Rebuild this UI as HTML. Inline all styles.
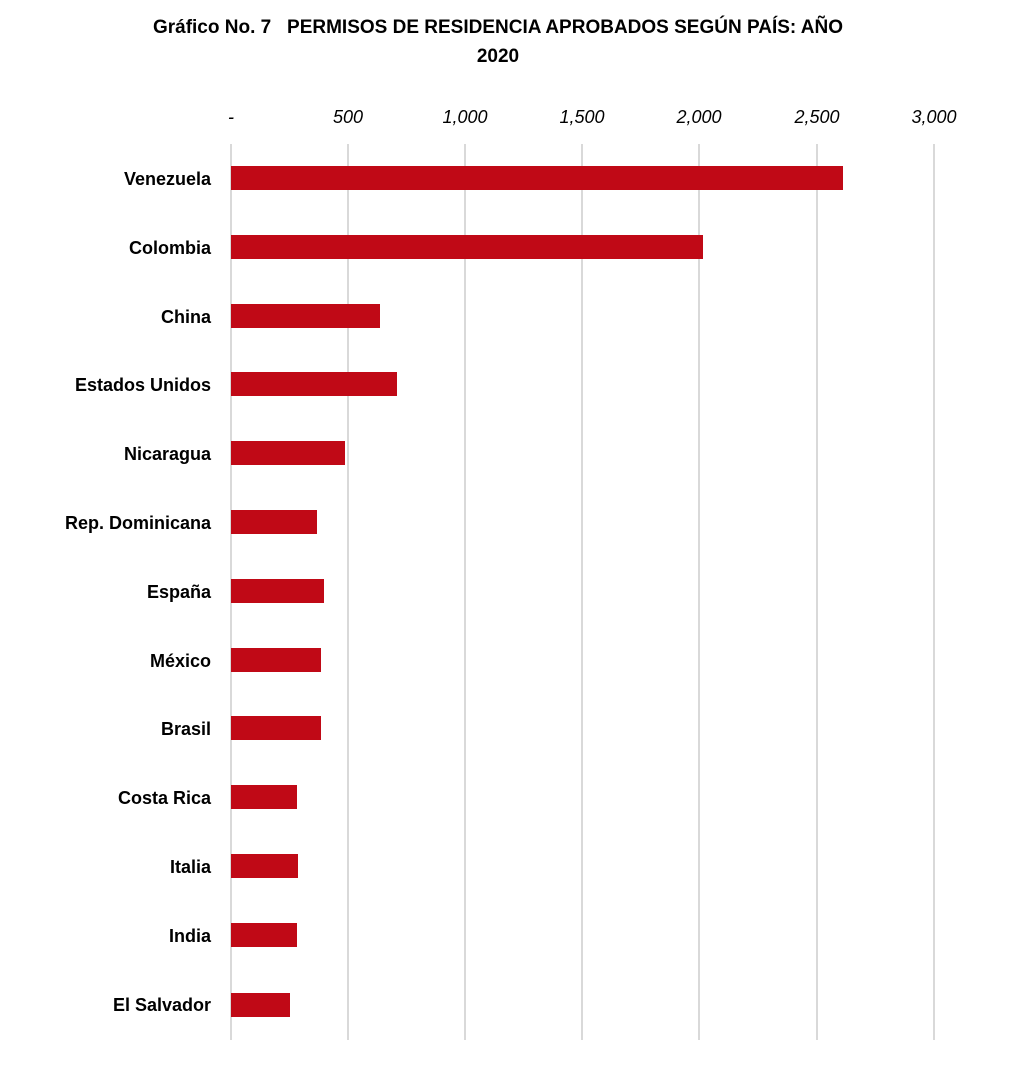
<!DOCTYPE html>
<html><head><meta charset="utf-8"><style>
body{margin:0;background:#fff;}
svg text{font-family:"Liberation Sans",sans-serif;}
</style></head><body>
<svg width="1020" height="1082" xmlns="http://www.w3.org/2000/svg">
<text x="498" y="33" text-anchor="middle" font-size="19" font-weight="bold" fill="#000">Gráfico No. 7&#160;&#160;&#160;PERMISOS DE RESIDENCIA APROBADOS SEGÚN PAÍS: AÑO</text>
<text x="498" y="62" text-anchor="middle" font-size="19" font-weight="bold" fill="#000">2020</text>
<g stroke="#d9d9d9" stroke-width="2">
<line x1="231" y1="144" x2="231" y2="1040"/><line x1="348" y1="144" x2="348" y2="1040"/><line x1="465" y1="144" x2="465" y2="1040"/><line x1="582" y1="144" x2="582" y2="1040"/><line x1="699" y1="144" x2="699" y2="1040"/><line x1="817" y1="144" x2="817" y2="1040"/><line x1="934" y1="144" x2="934" y2="1040"/>
</g>
<g font-size="18" font-style="italic" fill="#000" text-anchor="middle">
<text x="231" y="123">-</text><text x="348" y="123">500</text><text x="465" y="123">1,000</text><text x="582" y="123">1,500</text><text x="699" y="123">2,000</text><text x="817" y="123">2,500</text><text x="934" y="123">3,000</text>
</g>
<g fill="#c00916">
<rect x="231" y="166" width="612" height="24"/>
<rect x="231" y="235" width="472" height="24"/>
<rect x="231" y="304" width="149" height="24"/>
<rect x="231" y="372" width="166" height="24"/>
<rect x="231" y="441" width="114" height="24"/>
<rect x="231" y="510" width="86" height="24"/>
<rect x="231" y="579" width="93" height="24"/>
<rect x="231" y="648" width="90" height="24"/>
<rect x="231" y="716" width="90" height="24"/>
<rect x="231" y="785" width="66" height="24"/>
<rect x="231" y="854" width="67" height="24"/>
<rect x="231" y="923" width="66" height="24"/>
<rect x="231" y="993" width="59" height="24"/>
</g>
<g font-size="18" font-weight="bold" fill="#000" text-anchor="end">
<text x="211" y="185">Venezuela</text>
<text x="211" y="254">Colombia</text>
<text x="211" y="323">China</text>
<text x="211" y="391">Estados Unidos</text>
<text x="211" y="460">Nicaragua</text>
<text x="211" y="529">Rep. Dominicana</text>
<text x="211" y="598">España</text>
<text x="211" y="667">México</text>
<text x="211" y="735">Brasil</text>
<text x="211" y="804">Costa Rica</text>
<text x="211" y="873">Italia</text>
<text x="211" y="942">India</text>
<text x="211" y="1011">El Salvador</text>
</g>
</svg>
</body></html>
